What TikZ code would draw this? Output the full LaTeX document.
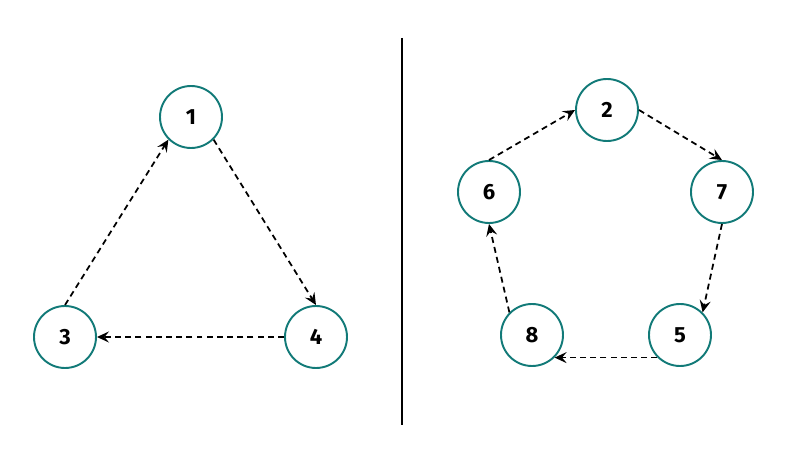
\documentclass[tikz,border=0pt]{standalone}
\usepackage{fontspec}
\setmainfont{Fira Sans}
\usetikzlibrary{arrows.meta}
\definecolor{teal1}{RGB}{18,122,120}

\tikzset{
  vert/.style={circle,draw=teal1,line width=1.1pt,minimum size=1.24cm,inner sep=0pt,
    font=\fontsize{12.5}{14}\selectfont\bfseries},
  edge/.style={-{Stealth[length=2.4mm,width=2.2mm,inset=0.9mm]},dashed,dash pattern=on 3.4pt off 2.4pt,line width=1pt}
}

\begin{document}
\begin{tikzpicture}[scale=1.0]
    \useasboundingbox (0,0) rectangle (16.1,9.06);

    % left cycle
    \begin{scope}
      \node[vert] (n1) at (3.82,6.72) {1};
      \node[vert] (n3) at (1.30,2.32) {3};
      \node[vert] (n4) at (6.32,2.32) {4};
      \draw[edge] (n3.north)--(n1.south west);
      \draw[edge] (n1.south east)--(n4.north);
      \draw[edge] (n4.west)--(n3.east);
    \end{scope}

    \coordinate (top) at (8.04,8.30);
    \coordinate (bot) at (8.04,0.56);
    \draw[line width=1pt] (top)--(bot);

    % right cycle
    \begin{scope}
      \node[vert] (n2) at (12.14,6.86) {2};
      \node[vert] (n7) at (14.44,5.22) {7};
      \node[vert] (n5) at (13.60,2.36) {5};
      \node[vert] (n8) at (10.64,2.36) {8};
      \node[vert] (n6) at (9.78,5.22) {6};
      \draw[edge] (n6.north)--(n2.west);
      \draw[edge] (n2.east)--(n7.north);
      \draw[edge] (n7.south)--(n5.north east);
      \draw[edge] (n5.south west)--(n8.south east);
      \draw[edge] (n8.north west)--(n6.south);
    \end{scope}

  \end{tikzpicture}
\end{document}
